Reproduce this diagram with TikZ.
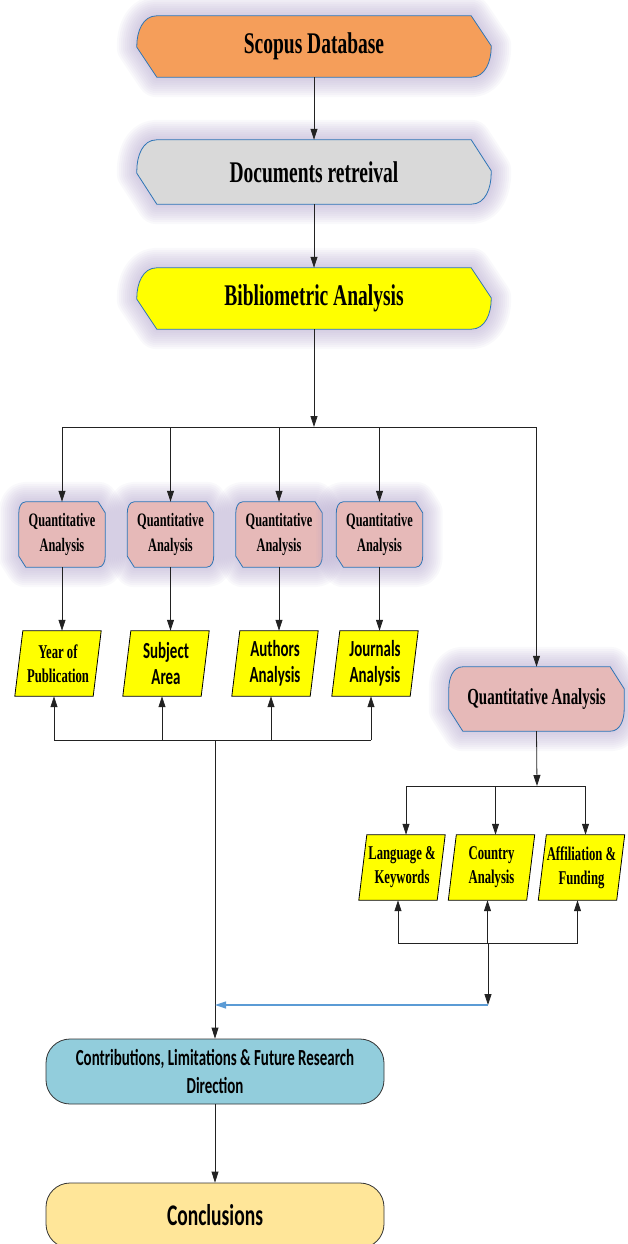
\documentclass[tikz,border=0pt]{standalone}
\usepackage{fontspec}
\newfontfamily\tnr{Liberation Serif}[FakeStretch=0.65]
\newfontfamily\calib{Carlito}[FakeStretch=0.65]
\usetikzlibrary{calc,arrows.meta,backgrounds}
\definecolor{scopusC}{HTML}{F59E5A}
\definecolor{docsC}{HTML}{D9D9D9}
\definecolor{yelC}{HTML}{FFFF00}
\definecolor{pinkC}{HTML}{E6B9B8}
\definecolor{bordB}{HTML}{2E75B6}
\definecolor{contribC}{HTML}{92CDDC}
\definecolor{conclC}{HTML}{FFE699}
\definecolor{glowC}{RGB}{172,158,200}
\definecolor{blueArr}{HTML}{5B9BD5}
\definecolor{lineC}{HTML}{222222}
\tikzset{
  gl/.style={preaction={draw=glowC,line width=#1,draw opacity=.065,line join=round}},
  glow/.style={gl=40pt,gl=36pt,gl=32pt,gl=28pt,gl=24pt,gl=20pt,gl=16pt,gl=12pt,gl=8pt,gl=4pt},
  hexstyle/.style={draw=bordB,line width=0.8pt,glow},
  txt/.style={inner sep=0pt,align=center,draw=none},
  bigT/.style={txt,font=\tnr\bfseries\fontsize{30}{36}\selectfont,minimum width=354pt,minimum height=61pt},
  qsmall/.style={txt,font=\tnr\bfseries\fontsize{19}{25}\selectfont,minimum width=86pt,minimum height=65pt},
  paraT/.style={txt,font=\tnr\bfseries\fontsize{19.5}{24}\selectfont,minimum width=78pt,minimum height=65pt},
  paraC/.style={txt,font=\calib\bfseries\fontsize{23}{26}\selectfont,minimum width=78pt,minimum height=65pt},
  parastyle/.style={draw=black,line width=0.8pt,fill=yelC},
  arr/.style={draw=lineC,line width=0.8pt,-{Triangle[length=11pt,width=7pt]}},
  ln/.style={draw=lineC,line width=0.8pt},
  pill/.style={draw=black!80,line width=0.8pt,rounded corners=24pt,minimum width=338pt,minimum height=65pt,inner sep=0pt,align=center}
}
\newcommand\hexbox[4]{\path[#4] ($(#1.north west)+(0,-#3)$) to[out=90,in=180] ($(#1.north west)+(#2,0)$) -- ($(#1.north east)+(-#2,0)$) -- ($(#1.north east)+(0,-#3)$) -- ($(#1.south east)+(0,#3)$) to[out=-90,in=0] ($(#1.south east)+(-#2,0)$) -- ($(#1.south west)+(#2,0)$) -- ($(#1.south west)+(0,#3)$) -- cycle;}
\newcommand\parabox[1]{\path[parastyle] ($(#1.south west)+(-4,0)$) -- ($(#1.north west)+(4,0)$) -- ($(#1.north east)+(4,0)$) -- ($(#1.south east)+(-4,0)$) -- cycle;
  \coordinate (#1t) at ($(#1.north)+(4,0)$);
  \coordinate (#1b) at ($(#1.south)+(-4,0)$);}
\begin{document}
\begin{tikzpicture}[x=1pt,y=1pt]
\useasboundingbox (0,0) rectangle (628,-1244);
% top nodes
\node[bigT] (scopus) at (314,-46.5) {Scopus Database};
\node[bigT,minimum height=64pt] (docs) at (314,-172) {Documents retreival};
\node[bigT] (biblio) at (314,-298.5) {Bibliometric Analysis};
% small quantitative boxes
\node[qsmall] (q1) at (62,-534.5) {Quantitative\\Analysis};
\node[qsmall] (q2) at (170.5,-534.5) {Quantitative\\Analysis};
\node[qsmall] (q3) at (279,-534.5) {Quantitative\\Analysis};
\node[qsmall] (q4) at (379.5,-534.5) {Quantitative\\Analysis};
% big quantitative
\node[txt,font=\tnr\bfseries\fontsize{23}{28}\selectfont,minimum width=175pt,minimum height=64pt] (qb) at (536.5,-699) {Quantitative Analysis};
% parallelogram nodes (left)
\node[paraT] (p1) at (58,-663.5) {Year of\\Publication};
\node[paraC] (p2) at (166,-663.5) {Subject\\Area};
\node[paraC] (p3) at (275,-663.5) {Authors\\Analysis};
\node[paraC] (p4) at (375,-663.5) {Journals\\Analysis};
% right parallelograms
\node[paraT] (r1) at (402,-867.5) {Language \&\\Keywords};
\node[paraT] (r2) at (491.5,-867.5) {Country\\Analysis};
\node[paraT] (r3) at (581.5,-867.5) {Affiliation \&\\Funding};
% shapes on background
\begin{scope}[on background layer]
\hexbox{scopus}{20}{30}{hexstyle,fill=scopusC}
\hexbox{docs}{20}{31}{hexstyle,fill=docsC}
\hexbox{biblio}{20}{30}{hexstyle,fill=yelC}
\hexbox{q1}{7}{11}{hexstyle,fill=pinkC}
\hexbox{q2}{7}{11}{hexstyle,fill=pinkC}
\hexbox{q3}{7}{11}{hexstyle,fill=pinkC}
\hexbox{q4}{7}{11}{hexstyle,fill=pinkC}
\hexbox{qb}{14}{22}{hexstyle,fill=pinkC}
\parabox{p1}\parabox{p2}\parabox{p3}\parabox{p4}
\parabox{r1}\parabox{r2}\parabox{r3}
\end{scope}
% bottom pills
\node[pill,fill=contribC,font=\calib\bfseries\fontsize{23}{28}\selectfont] (contrib) at (215,-1071.5) {Contributions, Limitations \& Future Research\\Direction};
\node[pill,fill=conclC,font=\calib\bfseries\fontsize{30}{34}\selectfont] (concl) at (215,-1215.5) {Conclusions};
% bus coordinates
\coordinate (bus1) at (314,-427);
\coordinate (bus2) at (215,-740);
\coordinate (bus3) at (537,-786);
\coordinate (bus4) at (488,-943);
\coordinate (rj) at (488,-1005);
% connectors
\draw[arr] (scopus.south) -- (docs.north);
\draw[arr] (docs.south) -- (biblio.north);
\draw[arr] (biblio.south) -- (bus1);
\draw[ln] (q1.north |- bus1) -- (qb.north |- bus1);
\draw[arr] (q1.north |- bus1) -- (q1.north);
\draw[arr] (q2.north |- bus1) -- (q2.north);
\draw[arr] (q3.north |- bus1) -- (q3.north);
\draw[arr] (q4.north |- bus1) -- (q4.north);
\draw[arr] (qb.north |- bus1) -- (qb.north);
\draw[arr] (q1.south) -- (p1t);
\draw[arr] (q2.south) -- (q2.south |- p2t);
\draw[arr] (q3.south) -- (q3.south |- p3t);
\draw[arr] (q4.south) -- (q4.south |- p4t);
% left feedback bus
\draw[ln] (p1b |- bus2) -- (p4b |- bus2);
\draw[arr] (p1b |- bus2) -- (p1b);
\draw[arr] (p2b |- bus2) -- (p2b);
\draw[arr] (p3b |- bus2) -- (p3b);
\draw[arr] (p4b |- bus2) -- (p4b);
\draw[arr] (bus2) -- (contrib.north);
% right side
\draw[arr] (qb.south) -- (bus3);
\draw[ln] (r1t |- bus3) -- (r3t |- bus3);
\draw[arr] (r1t |- bus3) -- (r1t);
\draw[arr] (r2t |- bus3) -- (r2t);
\draw[arr] (r3t |- bus3) -- (r3t);
\draw[ln] (r1b |- bus4) -- (r3b |- bus4);
\draw[arr] (r1b |- bus4) -- (r1b);
\draw[arr] (r2b |- bus4) -- (r2b);
\draw[arr] (r3b |- bus4) -- (r3b);
\draw[arr] (bus4) -- (rj);
\draw[draw=blueArr,line width=1.1pt,-{Triangle[length=11pt,width=7pt]}] (rj) -- (rj -| bus2);
\draw[arr] (contrib.south) -- (concl.north);
\end{tikzpicture}
\end{document}
